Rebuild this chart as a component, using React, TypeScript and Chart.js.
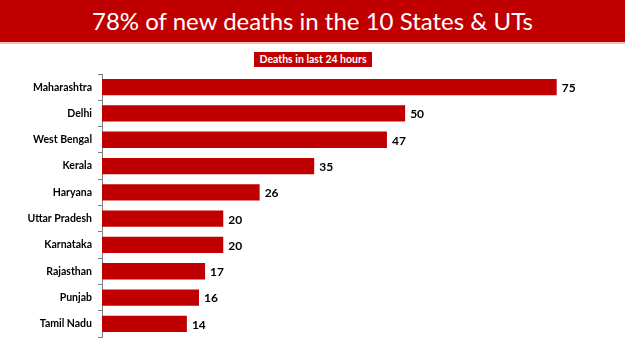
import React, { useEffect, useRef } from "react";
import { Chart, registerables } from "chart.js";

Chart.register(...registerables);

const titleText = "78% of new deaths in the 10 States & UTs";
const subtitleText = "Deaths in last 24 hours";
const states = [
  "Maharashtra",
  "Delhi",
  "West Bengal",
  "Kerala",
  "Haryana",
  "Uttar Pradesh",
  "Karnataka",
  "Rajasthan",
  "Punjab",
  "Tamil Nadu",
];
const deaths = [75, 50, 47, 35, 26, 20, 20, 17, 16, 14];

const RED = "#C00000";

const valueLabels = {
  id: "valueLabels",
  afterDatasetsDraw(chart: any) {
    const ctx = chart.ctx;
    const meta = chart.getDatasetMeta(0);
    ctx.save();
    ctx.font = "bold 12px 'Lato', 'Liberation Sans', sans-serif";
    ctx.fillStyle = "#000";
    ctx.textAlign = "left";
    ctx.textBaseline = "middle";
    meta.data.forEach((bar: any, i: number) => {
      ctx.fillText(String(chart.data.datasets[0].data[i]), bar.x + 5, bar.y + 1);
    });
    ctx.restore();
  },
};

export default function App() {
  const ref = useRef<HTMLCanvasElement | null>(null);
  useEffect(() => {
    if (!ref.current) return;
    const chart = new Chart(ref.current, {
      type: "bar",
      data: {
        labels: states,
        datasets: [
          {
            data: deaths,
            backgroundColor: RED,
            borderWidth: 0,
            categoryPercentage: 0.62,
            barPercentage: 1,
          },
        ],
      },
      options: {
        indexAxis: "y",
        animation: false,
        responsive: false,
        maintainAspectRatio: false,
        layout: { padding: { top: 74, bottom: 14, right: 38, left: 0 } },
        plugins: {
          legend: { display: false },
          tooltip: { enabled: false },
        },
        scales: {
          x: { display: false, min: 0, max: 80 },
          y: {
            afterFit: (s: any) => {
              s.width = 102;
            },
            grid: {
              display: true,
              drawOnChartArea: false,
              drawTicks: true,
              tickLength: 4,
              color: "#7f7f7f",
              offset: true,
            },
            border: { display: true, color: "#7f7f7f", width: 1 },
            ticks: {
              padding: 6,
              color: "#000",
              font: { family: "'Lato', 'Liberation Sans', sans-serif", size: 10.5, weight: "bold" },
            },
          },
        },
      },
      plugins: [valueLabels],
    });
    return () => chart.destroy();
  }, []);

  return (
    <div
      style={{
        position: "absolute",
        left: 0,
        top: 0,
        width: 625,
        height: 351,
        background: "#fff",
        overflow: "hidden",
      }}
    >
      <canvas ref={ref} width={625} height={351} style={{ position: "absolute", left: 0, top: 0 }} />
      <div
        style={{
          position: "absolute",
          left: 0,
          top: 0,
          width: 625,
          height: 42,
          background: RED,
          borderBottom: "2px solid #F2C4B4",
          color: "#fff",
          fontFamily: "'Lato', 'Open Sans', sans-serif",
          fontSize: 24,
          lineHeight: "41px",
          textAlign: "center",
        }}
      >
        {titleText}
      </div>
      <div
        style={{
          position: "absolute",
          left: 254,
          top: 52,
          width: 118,
          height: 15,
          background: RED,
          color: "#fff",
          fontFamily: "'Lato', 'Liberation Sans', sans-serif",
          fontWeight: "bold",
          fontSize: 10.5,
          lineHeight: "15px",
          textAlign: "center",
          whiteSpace: "nowrap",
        }}
      >
        {subtitleText}
      </div>
    </div>
  );
}
